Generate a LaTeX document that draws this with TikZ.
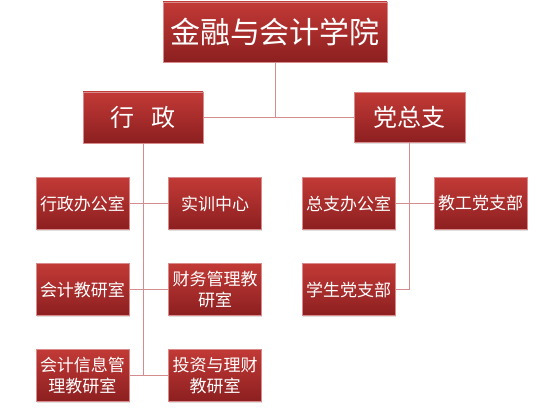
\documentclass[tikz,border=0pt]{standalone}
\usepackage{fontspec}
\newfontfamily\cjk{Noto Sans CJK SC}
\usetikzlibrary{shadows,calc}
\definecolor{orgred}{HTML}{C23A36}
\definecolor{orgdark}{HTML}{8C1F20}
\definecolor{orgedge}{HTML}{D98A8A}
\definecolor{orgline}{HTML}{D48C8C}

\begin{document}
\begin{tikzpicture}[x=1pt, y=1pt,
  box/.style={draw=orgedge, line width=0.4pt, top color=orgred, bottom color=orgdark,
    text=white, inner sep=0pt, align=center,
    drop shadow={shadow xshift=0.8pt, shadow yshift=-1.5pt, opacity=0.25}},
  unit/.style={box, minimum width=93, minimum height=52, font=\cjk\fontsize{17}{21}\selectfont},
  link/.style={orgline, line width=0.9pt}]

\useasboundingbox (0,0) rectangle (550,411);

% Top level
\node[box, minimum width=224, minimum height=60, font=\cjk\fontsize{30}{34}\selectfont] (college) at (275,379) {金融与会计学院};

% Second level
\node[box, minimum width=120, minimum height=51, font=\cjk\fontsize{24}{28}\selectfont] (admin) at (143,293.5) {行\hspace{0.7em}政};
\node[box, minimum width=111, minimum height=50, font=\cjk\fontsize{24}{28}\selectfont] (party) at (409.5,293.5) {党总支};

% Admin units
\node[unit] (office)  at (82.5,207.5) {行政办公室};
\node[unit] (train)   at (215,207.5)  {实训中心};
\node[unit] (acct)    at (82.5,121.5) {会计教研室};
\node[unit] (finman)  at (215,121.5)  {财务管理教\\研室};
\node[unit] (acctinf) at (82.5,35.5)  {会计信息管\\理教研室};
\node[unit] (invest)  at (215,35.5)   {投资与理财\\教研室};

% Party units
\node[unit] (poffice) at (348.5,207.5) {总支办公室};
\node[unit] (staff)   at (480.5,207.5) {教工党支部};
\node[unit] (student) at (348.5,121.5) {学生党支部};

% Connectors
\draw[link] (college.south) -- (college.south |- admin.east);
\draw[link] (admin.east) -- (party.west);
\draw[link] (admin.south) -- (admin.south |- acctinf.east);
\draw[link] (office.east) -- (train.west);
\draw[link] (acct.east) -- (finman.west);
\draw[link] (acctinf.east) -- (invest.west);
\draw[link] (party.south) -- (party.south |- student.east);
\draw[link] (poffice.east) -- (staff.west);
\draw[link] (student.east) -- (party.south |- student.east);

\end{tikzpicture}
\end{document}
